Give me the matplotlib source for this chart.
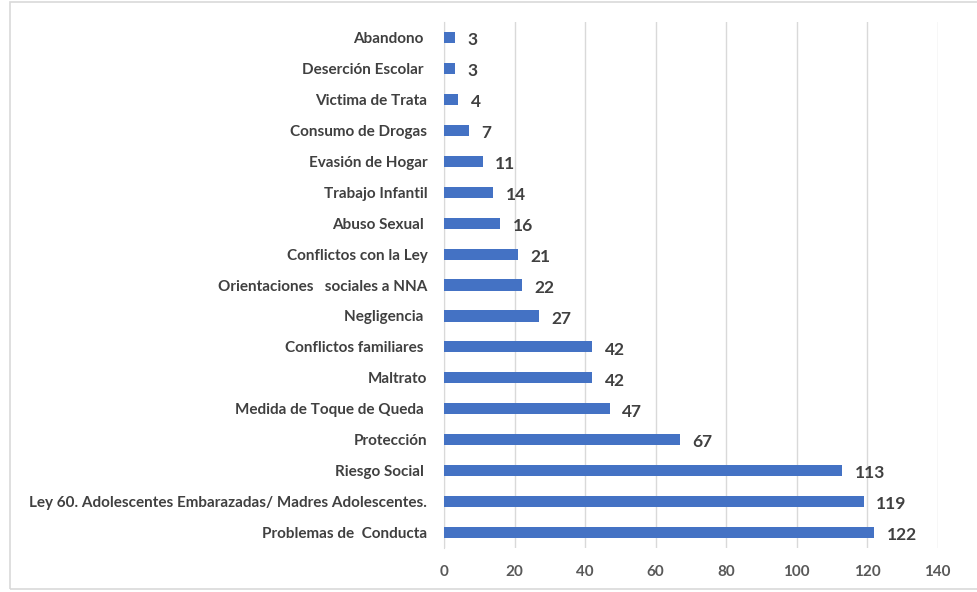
import matplotlib.pyplot as plt
from matplotlib.patches import Rectangle

categories = [
    "Abandono ", "Deserción Escolar ", "Victima de Trata", "Consumo de Drogas",
    "Evasión de Hogar", "Trabajo Infantil", "Abuso Sexual ", "Conflictos con la Ley",
    "Orientaciones   sociales a NNA", "Negligencia ", "Conflictos familiares ",
    "Maltrato", "Medida de Toque de Queda ", "Protección", "Riesgo Social ",
    "Ley 60. Adolescentes Embarazadas/ Madres Adolescentes.", "Problemas de  Conducta",
]
values = [3, 3, 4, 7, 11, 14, 16, 21, 22, 27, 42, 42, 47, 67, 113, 119, 122]
xticks = [0, 20, 40, 60, 80, 100, 120, 140]

plt.rcParams['font.family'] = ['Lato', 'DejaVu Sans']

fig = plt.figure(figsize=(9.78, 5.92), dpi=100)
ax = fig.add_axes([0.454, 0.0743, 0.5047, 0.8885])

# border around the chart area
fig.patches.append(Rectangle((10 / 978, 3 / 592), 1.0, 587 / 592, transform=fig.transFigure,
                             fill=False, edgecolor='#d9d9d9', linewidth=1.2))

n = len(categories)
ypos = list(range(n))
ax.barh(ypos, values, height=0.36, color='#4472c4', zorder=3)
ax.set_ylim(n - 0.5, -0.5)
ax.set_xlim(0, 140)
ax.set_xticks(xticks)
ax.set_yticks(ypos)
ax.set_yticklabels(categories, fontsize=11, fontweight='bold', color='#404040')
ax.set_xticklabels([str(t) for t in xticks], fontsize=11, fontweight='bold', color='#595959')
ax.tick_params(axis='y', length=0, pad=12)
ax.tick_params(axis='x', length=0, pad=12)

ax.grid(axis='x', color='#d9d9d9', linewidth=1, zorder=0)
for side in ['top', 'right', 'bottom']:
    ax.spines[side].set_visible(False)
ax.spines['left'].set_color('#d9d9d9')

for y, v in zip(ypos, values):
    ax.annotate(str(v), (v, y), xytext=(9, -2), textcoords='offset points',
                va='center', ha='left', fontsize=12.5, fontweight='bold', color='#404040')

fig.savefig('out.png', dpi=100)
